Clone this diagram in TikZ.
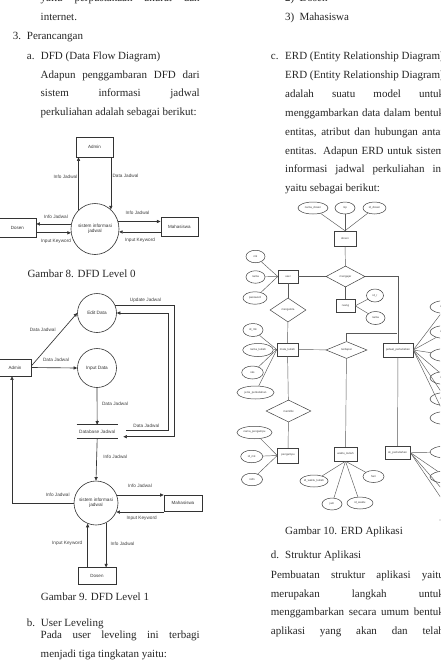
\documentclass[tikz,border=0pt]{standalone}
\usepackage{fontspec}
\setmainfont{Liberation Serif}
\newfontfamily\diafont{Liberation Sans}
\usetikzlibrary{arrows.meta,shapes.geometric,positioning}

\tikzset{
  body/.style={anchor=base west, inner sep=0pt, font=\fontsize{11}{13}\selectfont, text=black!85},
  dfdline/.style={draw=black!80, line width=0.65pt},
  flow/.style={dfdline, -{Triangle[length=3.6pt,width=3.2pt]}},
  extent/.style={draw=black!80, line width=0.6pt, rectangle, inner sep=0pt, font=\diafont\fontsize{4.5}{5}\selectfont, text=black!80},
  proc/.style={draw=black!80, line width=0.6pt, circle, inner sep=0pt, align=center, font=\diafont\fontsize{4.7}{5.4}\selectfont, text=black!80},
  flowlbl/.style={inner sep=0pt, font=\diafont\fontsize{4.7}{5.4}\selectfont, text=black!75},
  ent/.style={draw=black!75, line width=0.5pt, rectangle, inner sep=0pt, font=\diafont\fontsize{2.8}{3}\selectfont, text=black!75},
  attr/.style={draw=black!75, line width=0.5pt, ellipse, inner sep=0pt, font=\diafont\fontsize{2.8}{3}\selectfont, text=black!75},
  rel/.style={draw=black!75, line width=0.5pt, diamond, inner sep=0pt, font=\diafont\fontsize{2.8}{3}\selectfont, text=black!75},
  erdline/.style={draw=black!65, line width=0.45pt},
}

\begin{document}
\begin{tikzpicture}[x=1pt,y=-1pt]
\useasboundingbox (0,0) rectangle (440,664);
\fill[white] (0,0) rectangle (440,664);
\clip (0,0) rectangle (440,664);

% left column text
\foreach \yy/\ltxt [count=\i] in {1.5/{yaitu perpustakaan akurat dan}, 78/{Adapun penggambaran DFD dari}, 96.5/{sistem informasi jadwal}, 638.7/{Pada user leveling ini terbagi}}
  \node[body] (lj-\i) at (40.5,\yy) {\makebox[159pt][s]{\ltxt}};
\node[body] (l1) at (40.5,20.5) {internet.};
\node[body] (l2) at (12.7,39) {3.};
\node[body] (l3) at (26.7,39) {Perancangan};
\node[body] (l4) at (26.7,59.5) {a.};
\node[body] (l5) at (40.7,59.5) {DFD (Data Flow Diagram)};
\node[body] (l6) at (40.5,115) {perkuliahan adalah sebagai berikut:};
\node[body] (cap8) at (27.3,277) {Gambar 8. DFD Level 0};
\node[body] (cap9) at (40.7,600.5) {Gambar 9. DFD Level 1};
\node[body] (l7) at (26.7,626.7) {b.};
\node[body] (l8) at (40.7,626.7) {User Leveling};
\node[body] (l9) at (40.5,657.3) {menjadi tiga tingkatan yaitu:};

% right column text
\node[body] (r1) at (285,1.5) {2)};
\node[body] (r2) at (299.3,1.5) {Dosen};
\node[body] (r3) at (285,20.7) {3)};
\node[body] (r4) at (299.3,20.7) {Mahasiswa};
\node[body] (r5) at (270.7,59) {c.};
\node[body] (r6) at (285,59) {ERD (Entity Relationship Diagram)};
\node[body] (r7) at (285,78.3) {ERD (Entity Relationship Diagram)};
\foreach \yy/\ltxt [count=\i] in {97/{adalah suatu model untuk}, 116/{menggambarkan data dalam bentuk}, 135/{entitas, atribut dan hubungan antar}, 154/{entitas. Adapun ERD untuk sistem}, 172.5/{informasi jadwal perkuliahan ini}}
  \node[body] (rj-\i) at (285,\yy) {\makebox[159pt][s]{\ltxt}};
\node[body] (r8) at (285,191) {yaitu sebagai berikut:};
\node[body] (cap10) at (285,534) {Gambar 10. ERD Aplikasi};
\node[body] (r9) at (270.7,558.7) {d.};
\node[body] (r10) at (285,558.7) {Struktur Aplikasi};
\foreach \yy/\ltxt [count=\i] in {578.3/{Pembuatan struktur aplikasi yaitu}, 597/{merupakan langkah untuk}, 615.7/{menggambarkan secara umum bentuk}, 634.7/{aplikasi yang akan dan telah}}
  \node[body] (dj-\i) at (270.7,\yy) {\makebox[173pt][s]{\ltxt}};

% DFD level 0
\node[extent, minimum width=37pt, minimum height=20pt] (admin0) at (94.5,147) {Admin};
\node[proc, ellipse, minimum width=45pt, minimum height=51pt] (sys0) at (95,229) {sistem informasi\\jadwal};
\node[extent, minimum width=37pt, minimum height=19pt] (dosen0) at (17.5,227.7) {Dosen};
\node[extent, minimum width=37pt, minimum height=18.5pt] (mhs0) at (179.3,227) {Mahasiswa};

\draw[flow] (sys0.131.8) -- (sys0.131.8 |- admin0.south);
\draw[flow] (admin0.south -| sys0.51.7) -- (sys0.51.7);
\draw[flow] (sys0.168) -- (sys0.168 -| dosen0.east);
\draw[flow] (dosen0.east |- sys0.189.5) -- (sys0.189.5);
\draw[flow] (sys0.18.7) -- (sys0.18.7 -| mhs0.west);
\draw[flow] (mhs0.west |- sys0.353.1) -- (sys0.353.1);

\node[flowlbl] (f1) at (65.5,177) {Info Jadwal};
\node[flowlbl] (f2) at (125.5,175.7) {Data Jadwal};
\node[flowlbl] (f3) at (56,216.7) {Info Jadwal};
\node[flowlbl] (f4) at (56,241) {Input Keyword};
\node[flowlbl] (f5) at (137.5,213.3) {Info Jadwal};
\node[flowlbl] (f6) at (140,240) {Input Keyword};

% DFD level 1
\node[extent, minimum width=32pt, minimum height=17pt] (admin1) at (15,367.5) {Admin};
\node[proc, minimum size=39pt] (edit) at (97,313) {Edit Data};
\node[proc, minimum size=39pt] (input) at (97,368) {Input Data};
\node[flowlbl, minimum width=41pt, minimum height=13.3pt] (db) at (97.2,431.6) {Database Jadwal};
\draw[dfdline] (db.north west) -- (db.north east);
\draw[dfdline] (db.south west) -- (db.south east);
\node[proc, minimum size=44pt] (sys1) at (96,503) {sistem informasi\\jadwal};
\node[extent, minimum width=38pt, minimum height=16pt] (mhs1) at (183,503) {Mahasiswa};
\node[extent, minimum width=38pt, minimum height=16.6pt] (dosen1) at (97,576) {Dosen};
\coordinate (dbA) at (123.3,436.7);
\coordinate (dbB) at (126,430.7);

\draw[flow] ([yshift=1.5pt]admin1.east) -- (edit.west);
\draw[flow] (admin1.east) -- (input.west);
\draw[flow] (input.south) -- (db.north);
\draw[flow] (db.south) -- (sys1.north);
\draw[flow] (edit.24) -| ([xshift=50.7pt]dbA) -- (dbA);
\draw[flow] (dbB) -- ++(42,0) |- (edit.east);
\draw[flow] (sys1.west) -| ([xshift=-3pt]admin1.south);
\draw[flow] (sys1.21.3) -- (sys1.21.3 -| mhs1.west);
\draw[flow] (mhs1.west |- sys1.336.7) -- (sys1.336.7);
\draw[flow] (dosen1.north -| sys1.248.7) -- (sys1.248.7);
\draw[flow] (sys1.297) -- (sys1.297 |- dosen1.north);

\node[flowlbl] (g1) at (42.7,330) {Data Jadwal};
\node[flowlbl] (g2) at (56,360) {Data Jadwal};
\node[flowlbl] (g3) at (115,404.3) {Data Jadwal};
\node[flowlbl] (g4) at (145.5,300.7) {Update Jadwal};
\node[flowlbl] (g5) at (146.3,425.7) {Data Jadwal};
\node[flowlbl] (g6) at (115.2,456.7) {Info Jadwal};
\node[flowlbl] (g7) at (57.7,495) {Info Jadwal};
\node[flowlbl] (g8) at (140,486) {Info Jadwal};
\node[flowlbl] (g9) at (141.7,518.3) {Input Keyword};
\node[flowlbl] (g10) at (67.2,543.3) {Input Keyword};
\node[flowlbl] (g11) at (122.5,544) {Info Jadwal};

% ERD
\node[ent, minimum width=22pt, minimum height=15pt] (dosen) at (345,238.5) {dosen};
\node[rel, minimum width=39pt, minimum height=21pt] (mengajar) at (345.5,276.5) {mengajar};
\node[ent, minimum width=20pt, minimum height=13pt] (user) at (288,276.5) {user};
\node[ent, minimum width=19pt, minimum height=13.7pt] (ruang) at (345.5,305.8) {ruang};
\node[rel, minimum width=36pt, minimum height=24pt] (mengelola) at (288,310) {mengelola};
\node[ent, minimum width=21pt, minimum height=13pt] (matkul) at (287.5,349.5) {mata\_kuliah};
\node[rel, minimum width=41pt, minimum height=17pt] (terdapat) at (346.5,350) {terdapat};
\node[ent, minimum width=30pt, minimum height=14pt] (jadwal) at (398,350) {jadwal\_perkuliahan};
\node[rel, minimum width=45pt, minimum height=22pt] (memiliki) at (288.5,411) {memiliki};
\node[ent, minimum width=21pt, minimum height=15pt] (pengampu) at (288,455.5) {pengampu};
\node[ent, minimum width=23pt, minimum height=14pt] (waktu) at (345.5,454) {waktu\_kuliah};
\node[ent, minimum width=25pt, minimum height=13pt] (sk) at (397.5,452.5) {sk\_perkuliahan};
\coordinate (jn) at (397,333);

\foreach \nm/\xx/\yy/\ww [count=\i] in {nama\_dosen/313/208/30pt, nip/345/208/20pt, id\_dosen/374.5/208/23pt}
  {\node[attr, minimum width=\ww, minimum height=12pt] (ad-\i) at (\xx,\yy) {\nm};
   \draw[erdline] (ad-\i) -- (dosen.north);}
\foreach \nm/\xx/\yy/\ww [count=\i] in {nik/255.5/256.5/19pt, nama/255.5/277/19pt, password/255/298/24pt}
  {\node[attr, minimum width=\ww, minimum height=12.5pt] (au-\i) at (\xx,\yy) {\nm};
   \draw[erdline] (au-\i) -- (user.west);}
\foreach \nm/\xx/\yy/\ww [count=\i] in {id\_r/375/295.5/17pt, nama/375.5/318/19pt}
  {\node[attr, minimum width=\ww, minimum height=13pt] (ar-\i) at (\xx,\yy) {\nm};
   \draw[erdline] (ruang.east) -- (ar-\i);}
\foreach \nm/\xx/\yy/\ww [count=\i] in {id\_mk/253/330/20pt, nama\_kuliah/258/350/30.6pt, sks/252.5/372.5/21.6pt, jenis\_perkuliahan/255.5/392.5/37pt}
  {\node[attr, minimum width=\ww, minimum height=13pt] (am-\i) at (\xx,\yy) {\nm};
   \draw[erdline] (am-\i) -- (matkul.west);}
\foreach \nm/\xx/\yy/\ww [count=\i] in {nama\_pengampu/254.5/432.5/35pt, id\_mk/251.7/456.5/22pt, nidn/252/479.5/21pt}
  {\node[attr, minimum width=\ww, minimum height=12.5pt] (ap-\i) at (\xx,\yy) {\nm};
   \draw[erdline] (ap-\i) -- (pengampu.west);}
\foreach \nm/\xx/\yy/\ww [count=\i] in {id\_waktu\_kuliah/314/481/28pt, hari/373.5/476.5/21pt, jam/332/504/20pt, id\_waktu/360/503/26pt}
  {\node[attr, minimum width=\ww, minimum height=12pt] (aw-\i) at (\xx,\yy) {\nm};
   \draw[erdline] (waktu.south) -- (aw-\i);}
\foreach \nm/\yy [count=\i] in {id\_jadwal/307, id\_dosen/332, id\_mk/355, id\_ruang/378, id\_waktu/399, kelas/418}
  {\node[attr, minimum width=32pt, minimum height=13pt] (aj-\i) at (446,\yy) {\nm};
   \draw[erdline] (jadwal.east) -- (aj-\i);}
\foreach \nm/\xx/\yy [count=\i] in {id\_sk/446/452, no\_sk/446/477, tanggal/462/512, semester/456/520}
  {\node[attr, minimum width=32pt, minimum height=12pt] (as-\i) at (\xx,\yy) {\nm};
   \draw[erdline] (sk.east) -- (as-\i);}

\draw[erdline] (dosen) -- (mengajar);
\draw[erdline] (user) -- (mengajar);
\draw[erdline] (mengajar) -- (ruang);
\draw[erdline] (mengajar.east) -| (jadwal.north);
\draw[erdline] (terdapat.north) |- (jn);
\draw[erdline] (user) -- (mengelola);
\draw[erdline] (mengelola) -- (matkul);
\draw[erdline] (matkul) -- (terdapat);
\draw[erdline] (terdapat) -- (waktu);
\draw[erdline] (matkul) -- (memiliki);
\draw[erdline] (memiliki) -- (pengampu);
\draw[erdline] (jadwal) -- (sk);

\end{tikzpicture}
\end{document}
